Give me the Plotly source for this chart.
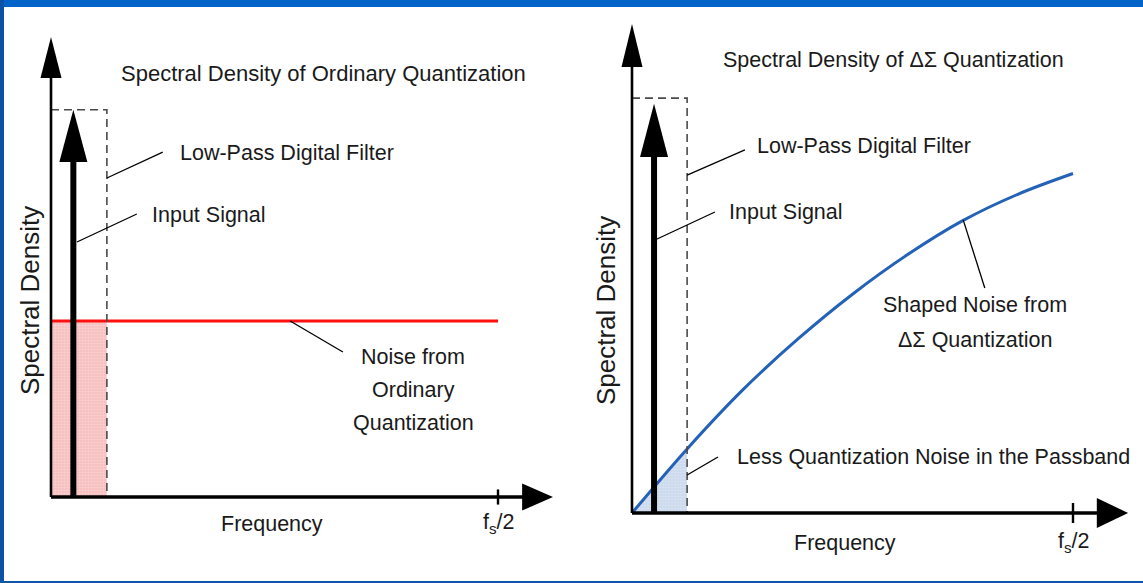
import plotly.graph_objects as go

# Frequency is normalised so that fs/2 = 1; spectral density is in arbitrary units.
cutoff_freq = 0.125            # edge of the low-pass digital filter
filter_gain = 2.2              # height of the dashed filter outline
signal_freq = 0.05             # position of the input tone
signal_level = [2.2, 2.17]     # input tone height (left, right)
nyquist_freq = 1.0             # fs/2 tick

# Ordinary quantization: flat noise floor
flat_noise_freq = [0.0, 1.0]
flat_noise_level = [1.0, 1.0]

# Delta-sigma quantization: noise shaped up towards fs/2
shaped_noise_freq = [0.0, 0.125, 0.25, 0.375, 0.5, 0.625, 0.75, 0.875, 1.0]
shaped_noise_level = [0.0, 0.34, 0.65, 0.92, 1.16, 1.37, 1.55, 1.69, 1.80]

FONT = "Liberation Sans Narrow, Arial Narrow, Liberation Sans, Arial, sans-serif"
TXT = "#1a1a1a"
FS = 21.5
W, H = 1143, 583

fig = go.Figure()

# per-panel axis geometry: origin in px, px per data unit, x domain
panels = {
    "left": dict(xa="x", ya="y", ox=51, sx=447, oy=497, sy=176, dom=[0.0, 0.5]),
    "right": dict(xa="x2", ya="y2", ox=632, sx=441, oy=513, sy=188.6, dom=[0.5, 1.0]),
}


def line(p, xs, ys, color="black", width=2, dash=None, shape="linear"):
    fig.add_trace(go.Scatter(
        x=xs, y=ys, mode="lines", xaxis=p["xa"], yaxis=p["ya"],
        line=dict(color=color, width=width, dash=dash, shape=shape, smoothing=1.0),
        hoverinfo="skip", showlegend=False))


def tri(p, xs, ys, color="black"):
    fig.add_trace(go.Scatter(
        x=xs, y=ys, mode="lines", fill="toself", fillcolor=color,
        xaxis=p["xa"], yaxis=p["ya"], line=dict(width=0, color=color),
        hoverinfo="skip", showlegend=False))


def text(p, x, y, s, xanchor="center", size=FS, angle=0):
    fig.add_annotation(x=x, y=y, xref=p["xa"], yref=p["ya"], text=s,
                       showarrow=False, xanchor=xanchor, yanchor="middle",
                       textangle=angle, font=dict(family=FONT, size=size, color=TXT))


def frame(p, sig_level, y_tip, y_base, x_tip, x_base, x_half, sig_base, tick_half):
    # filter outline (dashed)
    line(p, [0, cutoff_freq, cutoff_freq], [filter_gain, filter_gain, 0],
         color="#4a4a4a", width=1.6, dash="8px,5px")
    # axes with arrowheads
    yh = 10.5 / p["sx"]
    line(p, [0, 0], [0, y_base + 0.02], width=2.6)
    tri(p, [-yh, yh, 0, -yh], [y_base, y_base, y_tip, y_base])
    line(p, [0, x_base + 0.01], [0, 0], width=3.6)
    tri(p, [x_base, x_base, x_tip, x_base], [-x_half, x_half, 0, -x_half])
    # fs/2 tick
    line(p, [nyquist_freq, nyquist_freq], [-tick_half, tick_half], width=2.4)
    # input tone
    sh = 14 / p["sx"]
    line(p, [signal_freq, signal_freq], [0, sig_base + 0.02], width=6)
    tri(p, [signal_freq - sh, signal_freq + sh, signal_freq, signal_freq - sh],
        [sig_base, sig_base, sig_level, sig_base])


# ---------------- left panel: ordinary quantization ----------------
L = panels["left"]
fig.add_trace(go.Scatter(
    x=[0, cutoff_freq, cutoff_freq, 0], y=[flat_noise_level[0]] * 2 + [0, 0],
    fill="toself", mode="lines", line=dict(width=0), xaxis="x", yaxis="y",
    fillcolor="#f7c4c4",
    fillpattern=dict(shape=".", bgcolor="#f7c0c0", fgcolor="#fbe0e0", size=3, solidity=0.4),
    hoverinfo="skip", showlegend=False))
line(L, flat_noise_freq, flat_noise_level, color="#ff1010", width=3)
frame(L, signal_level[0], 2.614, 2.38, 1.123, 1.054, 0.077, 1.903, 0.043)

text(L, 0.6085, 2.409, "Spectral Density of Ordinary Quantization", size=22)
text(L, 0.284, 1.955, "Low-Pass Digital Filter", xanchor="left")
line(L, [cutoff_freq, 0.25], [1.8125, 1.96], width=1.3)
text(L, 0.2215, 1.602, "Input Signal", xanchor="left")
line(L, [0.058, 0.192], [1.449, 1.608], width=1.3)
text(L, 0.81, 0.795, "Noise from")
text(L, 0.81, 0.608, "Ordinary")
text(L, 0.81, 0.420, "Quantization")
line(L, [0.535, 0.653], [1.0, 0.824], width=1.3)
text(L, 0.494, -0.153, "Frequency")
text(L, 1.0, -0.148, "f<sub>s</sub>/2")
text(L, -0.047, 1.119, "Spectral Density", size=26, angle=-90)

# ---------------- right panel: delta-sigma quantization ----------------
R = panels["right"]
pass_x = [f for f in shaped_noise_freq if f <= cutoff_freq]
pass_y = shaped_noise_level[:len(pass_x)]
fig.add_trace(go.Scatter(
    x=pass_x + [cutoff_freq, 0], y=pass_y + [0, 0],
    fill="toself", mode="lines", line=dict(width=0), xaxis="x2", yaxis="y2",
    fillcolor="#d2deee",
    fillpattern=dict(shape=".", bgcolor="#cbd9ec", fgcolor="#e8eef7", size=3, solidity=0.4),
    hoverinfo="skip", showlegend=False))
line(R, shaped_noise_freq, shaped_noise_level, color="#2462b8", width=3, shape="spline")
frame(R, signal_level[1], 2.593, 2.365, 1.125, 1.054, 0.080, 1.888, 0.053)

text(R, 0.594, 2.402, "Spectral Density of ΔΣ Quantization")
text(R, 0.279, 1.946, "Low-Pass Digital Filter", xanchor="left")
line(R, [cutoff_freq, 0.256], [1.792, 1.925], width=1.3)
text(R, 0.215, 1.596, "Input Signal", xanchor="left")
line(R, [0.052, 0.188], [1.4475, 1.596], width=1.3)
text(R, 0.778, 1.103, "Shaped Noise from")
text(R, 0.778, 0.917, "ΔΣ Quantization")
line(R, [0.751, 0.800], [1.554, 1.193], width=1.3)
text(R, 0.2336, 0.297, "Less Quantization Noise in the Passband", xanchor="left")
line(R, [cutoff_freq, 0.195], [0.2015, 0.297], width=1.3)
text(R, 0.483, -0.159, "Frequency")
text(R, 1.0, -0.159, "f<sub>s</sub>/2")
text(R, -0.059, 1.076, "Spectral Density", size=26, angle=-90)


def axis_ranges(p):
    x0 = p["dom"][0] * W
    x1 = p["dom"][1] * W
    xr = [(x0 - p["ox"]) / p["sx"], (x1 - p["ox"]) / p["sx"]]
    yr = [(p["oy"] - H) / p["sy"], p["oy"] / p["sy"]]
    return xr, yr


hidden = dict(visible=False, showgrid=False, zeroline=False, fixedrange=True)
lxr, lyr = axis_ranges(L)
rxr, ryr = axis_ranges(R)

fig.update_layout(
    width=W, height=H,
    margin=dict(l=0, r=0, t=0, b=0),
    paper_bgcolor="white", plot_bgcolor="rgba(0,0,0,0)",
    showlegend=False,
    xaxis=dict(domain=L["dom"], range=lxr, anchor="y", **hidden),
    yaxis=dict(domain=[0, 1], range=lyr, anchor="x", **hidden),
    xaxis2=dict(domain=R["dom"], range=rxr, anchor="y2", **hidden),
    yaxis2=dict(domain=[0, 1], range=ryr, anchor="x2", **hidden),
    shapes=[
        dict(type="rect", xref="paper", yref="paper", x0=0, x1=1, y0=1 - 7 / H, y1=1,
             fillcolor="#0064c8", line=dict(width=0), layer="above"),
        dict(type="rect", xref="paper", yref="paper", x0=0, x1=4 / W, y0=0, y1=1,
             fillcolor="#0a52a6", line=dict(width=0), layer="above"),
        dict(type="rect", xref="paper", yref="paper", x0=0, x1=1, y0=0, y1=2 / H,
             fillcolor="#0a56a8", line=dict(width=0), layer="above"),
    ],
)

fig.write_html("out.html")
